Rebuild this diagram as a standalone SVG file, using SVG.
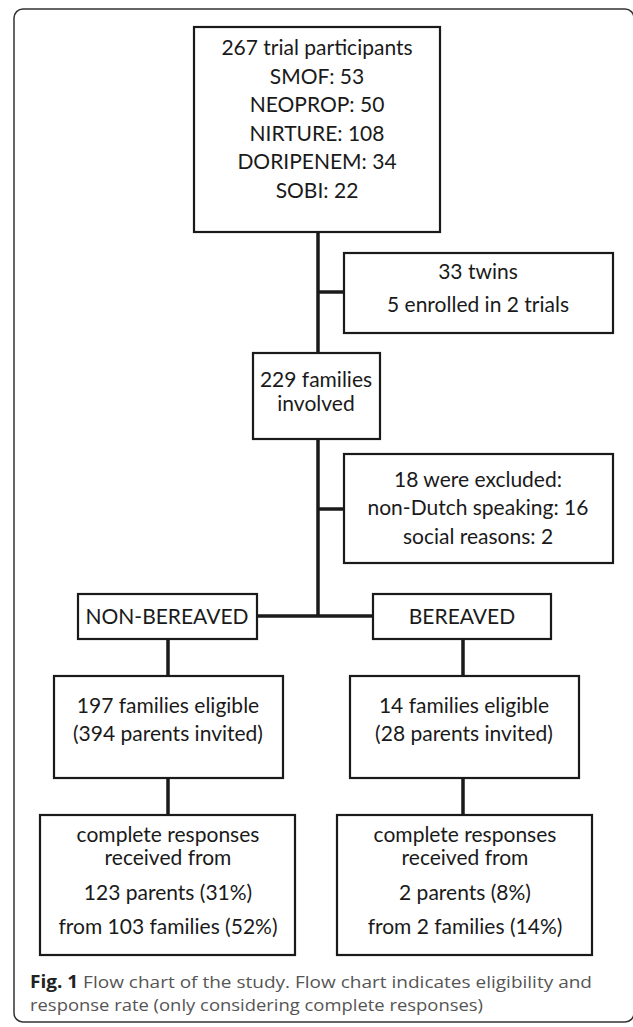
<svg xmlns="http://www.w3.org/2000/svg" width="633" height="1027" viewBox="0 0 633 1027">
<style>
.frame{fill:none;stroke:#333;stroke-width:1.5}
.box{fill:#fff;stroke:#1a1a1a;stroke-width:2.2}
.conn{fill:none;stroke:#1a1a1a;stroke-width:3.5}
.t{font-family:Lato,"Liberation Sans",sans-serif;font-size:21px;fill:#1a1a1a;text-anchor:middle}
.cap{font-family:"Open Sans","Liberation Sans",sans-serif;font-size:17px;fill:#555}
.capb{font-weight:bold;fill:#222}
</style>
<rect width="633" height="1027" fill="#fff"/>
<rect class="frame" x="14" y="9" width="620" height="1013" rx="9"/>
<g id="connectors">
<path class="conn" d="M318,232 V616"/>
<path class="conn" d="M318,292 H344"/>
<path class="conn" d="M318,509 H344"/>
<path class="conn" d="M257,616 H373"/>
<path class="conn" d="M168,639 V676 M463,639 V676"/>
<path class="conn" d="M168,778 V815 M463,778 V815"/>
</g>
<g id="n_participants">
<rect class="box" x="194" y="27" width="246" height="205"/>
<text class="t" x="317" y="55">267 trial participants</text>
<text class="t" x="317" y="83.5">SMOF: 53</text>
<text class="t" x="317" y="112">NEOPROP: 50</text>
<text class="t" x="317" y="140.5">NIRTURE: 108</text>
<text class="t" x="317" y="169">DORIPENEM: 34</text>
<text class="t" x="317" y="197.5">SOBI: 22</text>
</g>
<g id="n_twins">
<rect class="box" x="344" y="253" width="269" height="80"/>
<text class="t" x="478" y="279">33 twins</text>
<text class="t" x="478" y="312">5 enrolled in 2 trials</text>
</g>
<g id="n_families">
<rect class="box" x="253" y="353" width="127" height="86"/>
<text class="t" x="316" y="387">229 families</text>
<text class="t" x="316" y="411">involved</text>
</g>
<g id="n_excluded">
<rect class="box" x="344" y="454" width="269" height="109"/>
<text class="t" x="478" y="487">18 were excluded:</text>
<text class="t" x="478" y="515">non-Dutch speaking: 16</text>
<text class="t" x="478" y="544">social reasons: 2</text>
</g>
<g id="n_nonbereaved">
<rect class="box" x="78" y="594" width="179" height="45"/>
<text class="t" x="167" y="624">NON-BEREAVED</text>
</g>
<g id="n_bereaved">
<rect class="box" x="373" y="594" width="178" height="45"/>
<text class="t" x="462" y="624">BEREAVED</text>
</g>
<g id="n_elig_left">
<rect class="box" x="54" y="676" width="229" height="102"/>
<text class="t" x="168" y="713">197 families eligible</text>
<text class="t" x="168" y="741">(394 parents invited)</text>
</g>
<g id="n_elig_right">
<rect class="box" x="350" y="676" width="229" height="102"/>
<text class="t" x="464" y="713">14 families eligible</text>
<text class="t" x="464" y="741">(28 parents invited)</text>
</g>
<g id="n_resp_left">
<rect class="box" x="40" y="815" width="255" height="140"/>
<text class="t" x="168" y="842">complete responses</text>
<text class="t" x="168" y="865">received from</text>
<text class="t" x="168" y="900">123 parents (31%)</text>
<text class="t" x="168" y="934">from 103 families (52%)</text>
</g>
<g id="n_resp_right">
<rect class="box" x="337" y="815" width="255" height="140"/>
<text class="t" x="465" y="842">complete responses</text>
<text class="t" x="465" y="865">received from</text>
<text class="t" x="465" y="900">2 parents (8%)</text>
<text class="t" x="465" y="934">from 2 families (14%)</text>
</g>
<g id="caption">
<text class="cap" x="30" y="988" textLength="562" lengthAdjust="spacingAndGlyphs"><tspan class="capb">Fig. 1</tspan> Flow chart of the study. Flow chart indicates eligibility and</text>
<text class="cap" x="30" y="1011" textLength="453" lengthAdjust="spacingAndGlyphs">response rate (only considering complete responses)</text>
</g>
</svg>
